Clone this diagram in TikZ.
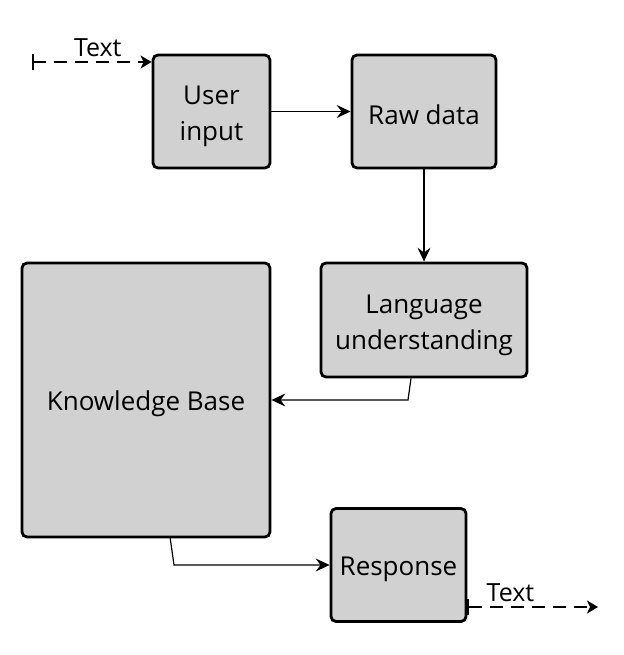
\documentclass[tikz,border=0pt]{standalone}
\usepackage{fontspec}
\setmainfont{Open Sans}
\usetikzlibrary{arrows.meta}
\begin{document}
\begin{tikzpicture}[x=1pt,y=-1pt,
  box/.style={draw=black, line width=2.8pt, rounded corners=5pt, fill=black!18, align=center, inner sep=0pt, font=\fontsize{26}{36}\selectfont, execute at begin node={\rule{0pt}{27pt}}},
  boxtext/.style={align=center, inner sep=0pt, font=\fontsize{26}{36}\selectfont},
  twoline/.style={label={[boxtext, yshift=-5pt]center:{#1}}},
  conn/.style={draw=black, line width=1.2pt, -{Stealth[length=14pt,width=13pt,inset=5pt]}},
  txt/.style={draw=black, line width=2.8pt, dash pattern=on 13pt off 8pt, {Bar[width=16pt,line width=1.6pt]}-{Stealth[length=11pt,width=13pt,inset=3pt]}},
  lbl/.style={font=\fontsize{25}{28}\selectfont, inner sep=0pt}]
\useasboundingbox (0,0) rectangle (623,655);
\node[box, minimum width=117pt, minimum height=113pt, twoline={User\\input}] (ui) at (211.5,111.5) {};
\node[box, minimum width=144pt, minimum height=113pt] (rd) at (424,111.5) {Raw data};
\node[box, minimum width=206pt, minimum height=114pt, twoline={Language\\understanding}] (lu) at (424,320) {};
\node[box, minimum width=248pt, minimum height=274pt] (kb) at (146,400) {Knowledge Base};
\node[box, minimum width=135pt, minimum height=113pt] (rs) at (398.5,565) {Response};
\coordinate (inS) at (32,62);
\coordinate (outE) at (598,607);
\coordinate (luB) at ([xshift=-13pt]lu.south);
\coordinate (luK) at (408,400);
\coordinate (kbB) at (170,537);
\coordinate (kbK) at (174,565);
\draw[conn] (ui.east) -- (rd.west);
\draw[conn] (rd.south) -- (lu.north);
\draw[conn] (luB) -- (luK) -- (kb.east |- luK);
\draw[conn] (kbB) -- (kbK) -- (rs.west |- kbK);
\draw[txt] (inS) -- (ui.north west |- inS) node[lbl, pos=0.55, above=4pt] (t1) {Text};
\draw[txt] (rs.east |- outE) -- (outE) node[lbl, pos=0.33, above=4pt] (t2) {Text};
\end{tikzpicture}
\end{document}
